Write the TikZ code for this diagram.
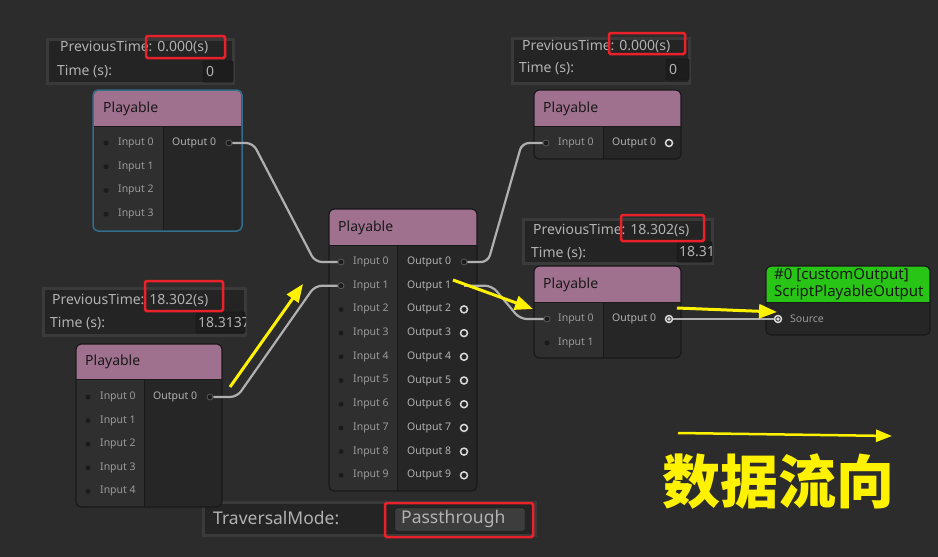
\documentclass[tikz,border=0pt]{standalone}
\usepackage{fontspec}
\setmainfont{Noto Sans}
\newfontfamily\cjk{Noto Sans CJK SC}
\usetikzlibrary{arrows.meta}
\definecolor{graphbg}{HTML}{2C2C2C}
\definecolor{bodyleft}{HTML}{2F2F2F}
\definecolor{bodyright}{HTML}{262626}
\definecolor{nodeedge}{HTML}{191919}
\definecolor{titlepink}{HTML}{A0718F}
\definecolor{titlegreen}{HTML}{28C416}
\definecolor{selblue}{HTML}{34708E}
\definecolor{panelbg}{HTML}{242424}
\definecolor{panelglow}{HTML}{3A3A3A}
\definecolor{fieldbg}{HTML}{1D1D1D}
\definecolor{dropbg}{HTML}{3D3D3D}
\definecolor{labelgray}{HTML}{9A9A9A}
\definecolor{textgray}{HTML}{B2B2B2}
\definecolor{cablegray}{HTML}{B0B0B0}
\definecolor{portdark}{HTML}{1B1B1B}
\definecolor{portring}{HTML}{5A5A5A}
\definecolor{portwhite}{HTML}{DADADA}
\definecolor{markred}{HTML}{E8212B}
\definecolor{flowyellow}{HTML}{FFF200}
% body of a graph node: left, top, right, bottom, title bottom, column split, title colour
\newcommand{\nodeframe}[7]{%
  \begin{scope}
    \clip[rounded corners=5] (#1,#2) rectangle (#3,#4);
    \fill[bodyright] (#1,#2) rectangle (#3,#4);
    \fill[bodyleft] (#1,#5) rectangle (#6,#4);
    \fill[#7] (#1,#2) rectangle (#3,#5);
    \draw[nodeedge, line width=1] (#6,#5) -- (#6,#4);
    \draw[nodeedge, line width=1] (#1,#5) -- (#3,#5);
  \end{scope}
  \draw[nodeedge, line width=1.2, rounded corners=5] (#1,#2) rectangle (#3,#4);
}
\begin{document}
\begin{tikzpicture}[x=1pt,y=-1pt,
    inport/.style={circle,fill=portdark,inner sep=0,minimum size=5},
    linkport/.style={circle,fill=portdark,draw=portring,line width=0.8,inner sep=0,minimum size=6},
    outport/.style={circle,draw=portwhite,line width=1.5,inner sep=0,minimum size=7},
    liveport/.style={outport,fill=graphbg,path picture={\fill[portwhite] (path picture bounding box.center) circle (1.8);}},
    inlabel/.style={anchor=west,inner sep=0,text=labelgray,font=\fontsize{10.5}{12}\selectfont},
    outlabel/.style={inlabel,text=textgray},
    titletext/.style={anchor=west,inner sep=0,text=black!90,font=\fontsize{14}{16}\selectfont},
    panel/.style={fill=panelbg,draw=panelglow,line width=3},
    field/.style={fill=fieldbg,draw=nodeedge,line width=0.8,rounded corners=2},
    paneltext/.style={anchor=west,inner sep=0,text=textgray,font=\fontsize{14}{16}\selectfont},
    modetext/.style={paneltext,font=\fontsize{17.5}{20}\selectfont},
    redmark/.style={draw=markred,line width=2.5,rounded corners=1.5},
    cable/.style={draw=cablegray,line width=2.2,rounded corners=7},
    flow/.style={flowyellow,line width=3,-{Triangle[length=18pt,width=14pt]}},
    flowthin/.style={flowyellow,line width=2.5,-{Triangle[length=16pt,width=12pt]}}]
\useasboundingbox (0,0) rectangle (938,557);
\fill[graphbg] (0,0) rectangle (938,557);

% time panels
\draw[panel] (47,39) rectangle (233,83);
\node[paneltext] (p1-prev) at (60,47) {PreviousTime: 0.000(s)};
\node[paneltext] (p1-time) at (57,71) {Time (s):};
\draw[field] (203,61) rectangle (233,82);
\node[paneltext] (p1-val) at (206,71) {0};
\draw[redmark] (146,36) rectangle (225,58);

\draw[panel] (43,288) rectangle (245,335);
\node[paneltext] (p2-prev) at (52,300) {PreviousTime: 18.302(s)};
\node[paneltext] (p2-time) at (50,323) {Time (s):};
\draw[field] (196,312) rectangle (245,333);
\begin{scope}
  \clip (196,312) rectangle (245,333);
  \node[paneltext] (p2-val) at (198,323) {18.3137};
\end{scope}
\draw[redmark] (145,281) rectangle (223,311);

\draw[panel] (512,38) rectangle (689,83);
\node[paneltext] (p4-prev) at (522,46) {PreviousTime: 0.000(s)};
\node[paneltext] (p4-time) at (519,68) {Time (s):};
\draw[field] (666,59) rectangle (689,80);
\node[paneltext] (p4-val) at (669,69) {0};
\draw[redmark] (609,33) rectangle (685,54);

\draw[panel] (523,219) rectangle (712,263);
\node[paneltext] (p5-prev) at (533,230) {PreviousTime: 18.302(s)};
\node[paneltext] (p5-time) at (531,253) {Time (s):};
\draw[field] (677,242) rectangle (712,262);
\begin{scope}
  \clip (677,242) rectangle (712,262);
  \node[paneltext] (p5-val) at (679,252) {18.3137};
\end{scope}
\draw[redmark] (621,215) rectangle (704,241);

\draw[panel] (203,502) rectangle (535,535);
\node[modetext] (mode-key) at (213,518) {TraversalMode:};
\draw[fill=dropbg,draw=nodeedge,rounded corners=2] (395,508) rectangle (525,531);
\node[modetext] (mode-val) at (401,519) {Passthrough};
\draw[redmark] (385,503) rectangle (533,537);

% playable nodes
\nodeframe{93}{90}{242}{231}{126}{163}{titlepink}
\draw[selblue, line width=1.5, rounded corners=5] (93,90) rectangle (242,231);
\node[titletext] (n1-title) at (103,109) {Playable};
\foreach \i in {0,...,3}{
  \node[inport] (n1-in\i) at (106,143+23.7*\i) {};
  \node[inlabel] (n1-inl\i) at (118,143+23.7*\i) {Input \i};
}
\node[outlabel] (n1-outl0) at (172,143) {Output 0};
\node[linkport] (n1-out0) at (229,143) {};

\nodeframe{76}{344}{222}{507}{379}{144}{titlepink}
\node[titletext] (n2-title) at (85,362) {Playable};
\foreach \i in {0,...,4}{
  \node[inport] (n2-in\i) at (88,397+23.6*\i) {};
  \node[inlabel] (n2-inl\i) at (100,397+23.6*\i) {Input \i};
}
\node[outlabel] (n2-outl0) at (153,397) {Output 0};
\node[linkport] (n2-out0) at (210,397) {};

\nodeframe{329}{209}{477}{491}{245}{397}{titlepink}
\node[titletext] (n3-title) at (338,228) {Playable};
\foreach \i in {0,...,9}{
  \node[inlabel] (n3-inl\i) at (353,262+23.7*\i) {Input \i};
  \node[outlabel] (n3-outl\i) at (407,262+23.7*\i) {Output \i};
}
\foreach \i in {2,...,9}{
  \node[inport] (n3-in\i) at (341,262+23.7*\i) {};
  \node[outport] (n3-out\i) at (464,262+23.7*\i) {};
}
\node[linkport] (n3-in0) at (341,262) {};
\node[linkport] (n3-in1) at (341,285.7) {};
\node[linkport] (n3-out0) at (464,262) {};
\coordinate (n3-out1) at (464,285.7);

\nodeframe{534}{90}{681}{159}{126}{603}{titlepink}
\node[titletext] (n4-title) at (543,109) {Playable};
\node[linkport] (n4-in0) at (546,143) {};
\node[inlabel] (n4-inl0) at (558,143) {Input 0};
\node[outlabel] (n4-outl0) at (612,143) {Output 0};
\node[outport] (n4-out0) at (669,143) {};

\nodeframe{534}{266}{681}{358}{302}{603}{titlepink}
\node[titletext] (n5-title) at (543,285) {Playable};
\node[linkport] (n5-in0) at (547,319) {};
\node[inlabel] (n5-inl0) at (558,319) {Input 0};
\node[inport] (n5-in1) at (547,343) {};
\node[inlabel] (n5-inl1) at (558,343) {Input 1};
\node[outlabel] (n5-outl0) at (612,319) {Output 0};
\node[liveport] (n5-out0) at (669,319) {};

% output node
\nodeframe{766}{266}{930}{335}{302}{766}{titlegreen}
\node[titletext,font=\fontsize{15}{17}\selectfont] (out-name) at (774,276) {\#0 [customOutput]};
\node[titletext,font=\fontsize{15}{17}\selectfont] (out-type) at (774,293) {ScriptPlayableOutput};
\node[liveport] (out-src) at (778,319) {};
\node[inlabel] (out-srcl) at (790,319) {Source};

% cables
\draw[cable] (n1-out0) -- ++(24,0) -- ([xshift=-26]n3-in0.center) -- (n3-in0);
\draw[cable] (n2-out0) -- ++(27,0) -- ([xshift=-26]n3-in1.center) -- (n3-in1);
\draw[cable] (n3-out0) -- ++(24,0) -- ([xshift=-24]n4-in0.center) -- (n4-in0);
\draw[cable] (n3-out1) -- ++(28,0) -- ([xshift=-27]n5-in0.center) -- (n5-in0);
\draw[cable] (n5-out0) -- (out-src);

% data flow marks
\coordinate (flowA-s) at (230,387);
\coordinate (flowA-e) at (303,284);
\coordinate (flowB-s) at (453,280);
\coordinate (flowB-e) at (533,309);
\coordinate (flowC-s) at (677,308);
\coordinate (flowC-e) at (777,312);
\coordinate (flowD-s) at (678,433);
\coordinate (flowD-e) at (892,436);
\draw[flow] (flowA-s) -- (flowA-e);
\draw[flow] (flowB-s) -- (flowB-e);
\draw[flow] (flowC-s) -- (flowC-e);
\draw[flowthin] (flowD-s) -- (flowD-e);
\node[text=flowyellow,font=\cjk\bfseries\fontsize{58}{58}\selectfont] (flowtext) at (778,482) {数据流向};
\end{tikzpicture}
\end{document}
